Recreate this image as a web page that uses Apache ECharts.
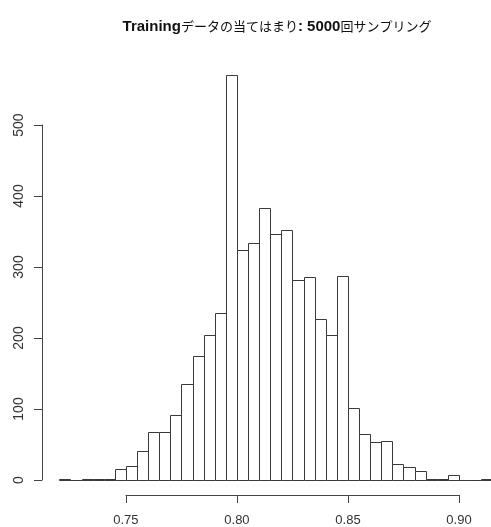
<!DOCTYPE html>
<html>
<head>
<meta charset="utf-8">
<script src="https://cdn.jsdelivr.net/npm/echarts@6/dist/echarts.min.js"></script>
<style>html,body{margin:0;padding:0;background:#fff;}#c{width:491px;height:527px;}</style>
</head>
<body>
<div id="c"></div>
<script>
// Histogram bin edges (breaks) and counts per bin
const breaks = [0.720, 0.725, 0.730, 0.735, 0.740, 0.745, 0.750, 0.755, 0.760, 0.765,
                0.770, 0.775, 0.780, 0.785, 0.790, 0.795, 0.800, 0.805, 0.810, 0.815,
                0.820, 0.825, 0.830, 0.835, 0.840, 0.845, 0.850, 0.855, 0.860, 0.865,
                0.870, 0.875, 0.880, 0.885, 0.890, 0.895, 0.900, 0.905, 0.910, 0.915];
const counts = [2, 0, 2, 2, 2, 16, 19, 41, 68, 67,
                91, 135, 175, 204, 235, 571, 324, 334, 383, 347,
                352, 282, 286, 227, 204, 288, 101, 65, 54, 55,
                22, 18, 12, 1, 1, 7, 0, 0, 1];
const xTicks = [0.75, 0.80, 0.85, 0.90];
const yTicks = [0, 100, 200, 300, 400, 500];
const titleParts = ['Training', 'データの当てはまり', ': 5000', '回サンプリング'];

// R-style axis limits (4% extension)
const xr = breaks[breaks.length - 1] - breaks[0];
const xMin = breaks[0] - 0.04 * xr, xMax = breaks[breaks.length - 1] + 0.04 * xr;
const yTop = Math.max(...counts);
const yMin = -0.04 * yTop, yMax = yTop * 1.04;

// plot region in pixels (the right part of the plot lies beyond the page edge)
const W = 491;
const PL = 42, PT = 58.4, PW = 467.6, PH = 437.8;
const px = v => PL + (v - xMin) / (xMax - xMin) * PW;
const py = v => PT + PH - (v - yMin) / (yMax - yMin) * PH;
const VW = W - PL;                                   // visible plot width
const xMaxVis = xMin + VW / PW * (xMax - xMin);      // data value at page edge

const bins = counts.map((c, i) => [breaks[i], breaks[i + 1], c]);

const chart = echarts.init(document.getElementById('c'), null, {renderer: 'canvas'});
const labelColor = '#333';
const lineColor = '#444';

chart.setOption({
  animation: false,
  backgroundColor: '#fff',
  title: {
    left: 272, top: 14, textAlign: 'center',
    text: '{a|' + titleParts[0] + '}{b|' + titleParts[1] + '}{a|' + titleParts[2] + '}{b|' + titleParts[3] + '}',
    textStyle: {
      rich: {
        a: {fontFamily: 'Liberation Sans, Arial, sans-serif', fontWeight: 'bold', fontSize: 15, color: '#111'},
        b: {fontFamily: 'Noto Sans CJK JP', fontWeight: 'normal', fontSize: 13, color: '#111'}
      }
    }
  },
  grid: [
    {left: PL, top: PT, width: VW, height: PH, containLabel: false},
    {left: PL, top: py(yTicks[yTicks.length - 1]), width: 100, height: py(yTicks[0]) - py(yTicks[yTicks.length - 1]), containLabel: false},
    {left: px(xTicks[0]), top: PT + PH - 10, width: px(xTicks[xTicks.length - 1]) - px(xTicks[0]), height: 10, containLabel: false}
  ],
  xAxis: [
    {gridIndex: 0, type: 'value', min: xMin, max: xMaxVis, show: false},
    {gridIndex: 1, type: 'value', min: 0, max: 1, show: false},
    {gridIndex: 2, type: 'value', position: 'bottom', min: xTicks[0], max: xTicks[xTicks.length - 1], interval: 0.05,
     axisLine: {show: true, onZero: false, lineStyle: {color: lineColor, width: 1}},
     axisTick: {show: true, inside: false, length: 8, lineStyle: {color: lineColor, width: 1}},
     axisLabel: {show: true, margin: 19, fontSize: 13, color: labelColor, fontFamily: 'Liberation Sans, Arial, sans-serif',
                 formatter: v => v.toFixed(2), showMinLabel: true, showMaxLabel: true},
     splitLine: {show: false}}
  ],
  yAxis: [
    {gridIndex: 0, type: 'value', min: yMin, max: yMax, show: false},
    {gridIndex: 1, type: 'value', position: 'left', min: yTicks[0], max: yTicks[yTicks.length - 1], interval: 100,
     axisLine: {show: true, onZero: false, lineStyle: {color: lineColor, width: 1}},
     axisTick: {show: true, inside: false, length: 8, lineStyle: {color: lineColor, width: 1}},
     axisLabel: {show: true, rotate: 90, margin: 16, fontSize: 14, color: labelColor, fontFamily: 'Liberation Sans, Arial, sans-serif',
                 showMinLabel: true, showMaxLabel: true},
     splitLine: {show: false}},
    {gridIndex: 2, type: 'value', min: 0, max: 1, show: false}
  ],
  series: [{
    type: 'custom',
    xAxisIndex: 0, yAxisIndex: 0,
    clip: true,
    data: bins,
    renderItem: function (params, api) {
      const p0 = api.coord([api.value(0), api.value(2)]);
      const p1 = api.coord([api.value(1), 0]);
      const x0 = Math.round(p0[0]) + 0.5, x1 = Math.round(p1[0]) + 0.5;
      const y0 = Math.round(p0[1]) + 0.5, y1 = Math.round(p1[1]) + 0.5;
      return {
        type: 'rect',
        shape: {x: x0, y: y0, width: x1 - x0, height: y1 - y0},
        style: {fill: '#fff', stroke: '#3a3a3a', lineWidth: 1}
      };
    }
  }]
});
</script>
</body>
</html>
